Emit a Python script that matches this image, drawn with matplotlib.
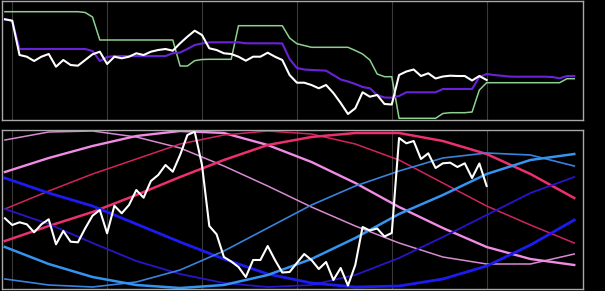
import numpy as np
import matplotlib.pyplot as plt

# top panel: price, mid line, channel line (levels, axis inverted)
price = [19.3, 20.7, 55, 56.7, 61, 56.7, 54, 66.7, 60, 65, 65.7, 60, 54.3, 51.7, 64,
         56.7, 58.3, 56.7, 53.3, 55, 51.7, 50, 49, 50.7, 43.3, 36.7, 30.7, 35, 48.3, 50,
         53.3, 54, 56.7, 60.7, 56.7, 56.7, 52.7, 56.7, 60, 75, 82.7, 82.7, 85, 88.3, 85,
         93, 103, 114, 108.3, 92.3, 96.7, 95, 104, 104.5, 75, 71.5, 69.5, 76, 73.3, 78.5,
         76.5, 75.7, 76, 76, 80.5, 76, 80]

mid = [19.3, 20.7, 49, 49, 49, 49, 49, 49, 49, 49, 49, 49, 51, 61, 57, 56, 56, 56, 56,
       56, 56, 56, 56, 53.3, 52.5, 49, 45, 43.5, 42.3, 42.3, 42.3, 42.3, 42.3, 43.3, 43.3,
       43.3, 43.3, 43.3, 43.5, 59, 68, 69.5, 70, 70.3, 70.7, 75, 79.5, 81.5, 84, 87, 88.3,
       95, 97.5, 97.7, 96, 92.3, 92.3, 92.3, 92.3, 92.3, 89, 89, 89, 89, 89, 77, 74, 75,
       75.7, 76.5, 76.7, 76.7, 76.7, 76.7, 76.7, 77, 78.3, 76, 76]

channel = ([11.7] * 11 + [12.5, 17, 40] + [40] * 10 + [66, 66, 60.7, 59.5] + [59.3] * 4
           + [25.7] * 7 + [38, 43.7, 45.5] + [47.3] * 6 + [50.5, 54, 60, 74, 76.7, 76.7]
           + [118.3] * 6 + [113.5, 112.7, 112.7, 112.7, 112] + [90, 82.7] + [82.7] * 10
           + [78.7, 78.7])

# bottom panel: oscillator and cycle curves
osc = [218.3, 225, 222.3, 224.3, 232.3, 224.3, 219.3, 244.3, 231, 241.7, 242.3, 228.3,
       215.7, 210, 233.3, 205.7, 213.3, 205, 190, 197.7, 181, 175, 165, 171.7, 155, 135,
       131.7, 165, 226, 234.3, 257, 261.5, 267, 277, 260, 260, 246, 260, 272.5, 272, 263,
       254, 260, 269, 262, 280, 268, 285.5, 265, 227, 230.5, 228.5, 236.5, 233, 138,
       143.3, 141, 159, 153.3, 168, 163.3, 162.7, 167, 163.3, 178, 163.5, 186]

cycle_x = list(range(0, 79, 6))
plum_thin = [140, 132, 131, 137, 148, 166, 186, 207, 226, 243, 257, 264, 264, 254]
orchid = [172, 158, 146, 136, 131, 133, 145, 162, 183, 207, 228, 247, 259, 265]
crimson = [241, 226, 212, 195, 177, 160, 145, 137, 133, 133, 141, 154, 174, 198]
crimson_thin = [209, 191, 174, 159, 144, 135, 131, 134, 144, 160, 183, 206, 225, 243]
blue = [178, 193, 206, 224, 242, 259, 274, 283, 287, 286, 279, 266, 245, 220]
navy_thin = [209, 224, 243, 261, 274, 283, 287, 285, 275, 258, 237, 215, 193, 177]
sky = [247, 264, 277, 285, 288, 285, 275, 259, 238, 214, 195, 174, 160, 154]
sky_thin = [279, 285, 287, 282, 270, 251, 228, 205, 186, 171, 158, 153, 155, 166]

grid_x = [1, 14, 27, 40, 53, 66]

W, H = 605, 291
fig = plt.figure(figsize=(W / 100, H / 100), dpi=100, facecolor='black')
ax1 = fig.add_axes([2 / W, 1 - 120 / H, 581 / W, 119 / H])
ax2 = fig.add_axes([2 / W, 1 - 289 / H, 581 / W, 159 / H])

for ax in (ax1, ax2):
    ax.set_facecolor('black')
    for s in ax.spines.values():
        s.set_color('#a8a8a8')
        s.set_linewidth(1)
    ax.set_xticks([])
    ax.set_yticks([])
    for g in grid_x:
        ax.axvline(g, color='#3a3a3a', lw=0.8, zorder=0)
    ax.set_xlim(-0.4, 79.2)

ax1.plot(range(len(channel)), channel, color='#8fd08f', lw=1.1)
ax1.plot(range(len(mid)), mid, color='#6a22d8', lw=1.5)
ax1.plot(range(len(price)), price, color='white', lw=1.5)
ax1.set_ylim(120, 1)

curves = [(plum_thin, '#d78bd2', 1.1), (orchid, '#f08ce4', 1.7),
          (crimson_thin, '#d02462', 1.1), (crimson, '#ec2f70', 1.8),
          (navy_thin, '#2a14c8', 1.3), (blue, '#1c1cf2', 2.0),
          (sky_thin, '#3a82dc', 1.2), (sky, '#3494f2', 1.8)]
for vals, c, lw in curves:
    ax2.plot(cycle_x, vals, color=c, lw=lw)
ax2.plot(range(len(osc)), osc, color='white', lw=1.5)
ax2.set_ylim(289, 130)

plt.savefig('out.png', dpi=100, facecolor='black')
